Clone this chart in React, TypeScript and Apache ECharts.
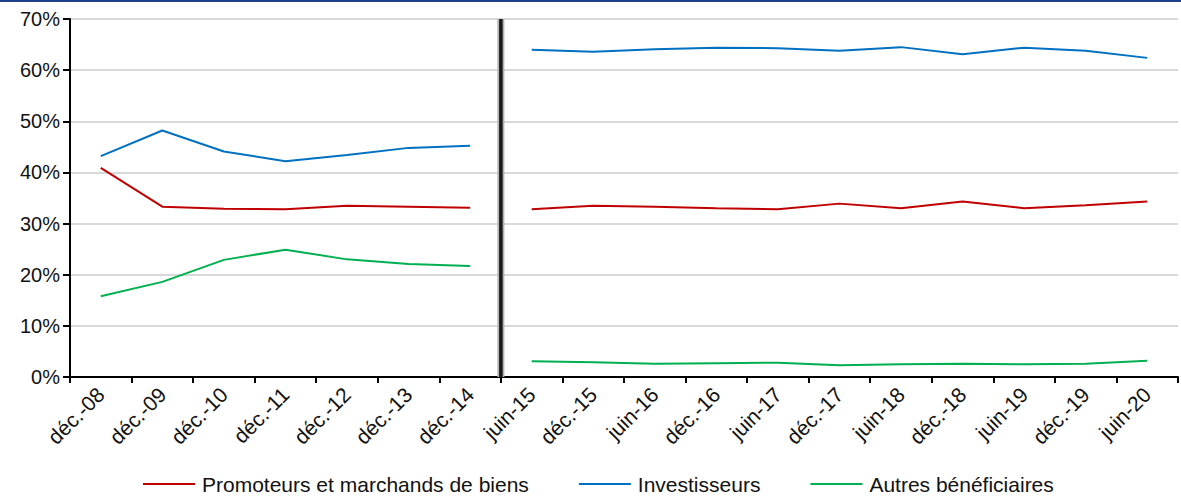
import React, { useEffect, useRef } from "react";
import * as echarts from "echarts";

const categories = [
  "déc.-08", "déc.-09", "déc.-10", "déc.-11", "déc.-12", "déc.-13", "déc.-14",
  "juin-15", "déc.-15", "juin-16", "déc.-16", "juin-17", "déc.-17", "juin-18",
  "déc.-18", "juin-19", "déc.-19", "juin-20",
];
const promoteurs = [40.9, 33.3, 32.9, 32.8, 33.5, 33.3, 33.1, 32.8, 33.5, 33.3, 33.0, 32.8, 33.9, 33.0, 34.3, 33.0, 33.6, 34.3];
const investisseurs = [43.2, 48.2, 44.1, 42.2, 43.4, 44.8, 45.2, 64.0, 63.6, 64.1, 64.4, 64.3, 63.8, 64.5, 63.1, 64.4, 63.8, 62.4];
const autres = [15.8, 18.6, 22.9, 24.9, 23.0, 22.1, 21.7, 3.1, 2.9, 2.6, 2.7, 2.8, 2.3, 2.5, 2.6, 2.5, 2.6, 3.2];
const seriesNames = ["Promoteurs et marchands de biens", "Investisseurs", "Autres bénéficiaires"];
const seriesColors = ["#c00000", "#0070c0", "#00b050"];
const breakIndex = 7;
const yTicks = [0, 10, 20, 30, 40, 50, 60, 70];

const FONT = "Liberation Sans, Arial, sans-serif";

export default function App() {
  const ref = useRef<HTMLDivElement>(null);
  useEffect(() => {
    if (!ref.current) return;
    const chart = echarts.init(ref.current, null, { renderer: "svg" });
    const all = [promoteurs, investisseurs, autres];
    const lineSeries: any[] = [];
    all.forEach((vals, k) => {
      const before = vals.map((v, i) => (i < breakIndex ? v : null));
      const after = vals.map((v, i) => (i >= breakIndex ? v : null));
      [before, after].forEach((d) => {
        lineSeries.push({
          type: "line",
          name: seriesNames[k],
          data: d,
          showSymbol: false,
          symbol: "none",
          connectNulls: false,
          lineStyle: { color: seriesColors[k], width: 2 },
          itemStyle: { color: seriesColors[k] },
          z: 5,
        });
      });
    });
    const option: any = {
      animation: false,
      backgroundColor: "#ffffff",
      textStyle: { fontFamily: FONT },
      grid: { left: 70, right: 3, top: 19, bottom: 121, containLabel: false },
      graphic: [
        { type: "rect", left: 0, top: 0, shape: { width: 1181, height: 2 }, style: { fill: "#1f3f8f" } },
      ],
      legend: {
        top: 473,
        left: 143,
        padding: 0,
        data: seriesNames,
        icon: "rect",
        itemWidth: 52,
        itemHeight: 2,
        itemGap: 50,
        textStyle: { fontSize: 21, lineHeight: 22, color: "#111", fontFamily: FONT, padding: [0, 0, 0, 2] },
      },
      xAxis: [
        {
          type: "category",
          data: categories,
          boundaryGap: true,
          axisLine: { lineStyle: { color: "#000", width: 2 } },
          axisTick: { show: true, length: 6, lineStyle: { color: "#000", width: 2 } },
          axisLabel: { rotate: 45, fontSize: 21, color: "#111", margin: 14, interval: 0, fontFamily: FONT },
          splitLine: { show: false },
        },
        { type: "value", min: 0, max: categories.length, show: false },
      ],
      yAxis: {
        type: "value",
        min: 0,
        max: 70,
        interval: 10,
        axisLine: { show: true, lineStyle: { color: "#000", width: 2 } },
        axisTick: { show: true, length: 7, lineStyle: { color: "#000", width: 2 } },
        axisLabel: {
          fontSize: 20,
          color: "#111",
          margin: 10,
          fontFamily: FONT,
          formatter: (v: number) => (yTicks.includes(v) ? `${v}%` : ""),
        },
        splitLine: { show: true, lineStyle: { color: "#d9d9d9", width: 2 } },
      },
      series: [
        {
          type: "line",
          name: "sep-halo",
          xAxisIndex: 1,
          data: [[breakIndex, 0], [breakIndex, 70]],
          showSymbol: false,
          symbol: "none",
          lineStyle: { color: "#b3b3b3", width: 7 },
          z: 3,
          silent: true,
        },
        {
          type: "line",
          name: "sep",
          xAxisIndex: 1,
          data: [[breakIndex, 0], [breakIndex, 70]],
          showSymbol: false,
          symbol: "none",
          lineStyle: { color: "#1a1a1a", width: 3.5 },
          z: 4,
          silent: true,
        },
        ...lineSeries,
      ],
    };
    chart.setOption(option);
    return () => chart.dispose();
  }, []);
  return (
    <div
      ref={ref}
      style={{ position: "fixed", left: 0, top: 0, width: 1181, height: 498, background: "#fff" }}
    />
  );
}
